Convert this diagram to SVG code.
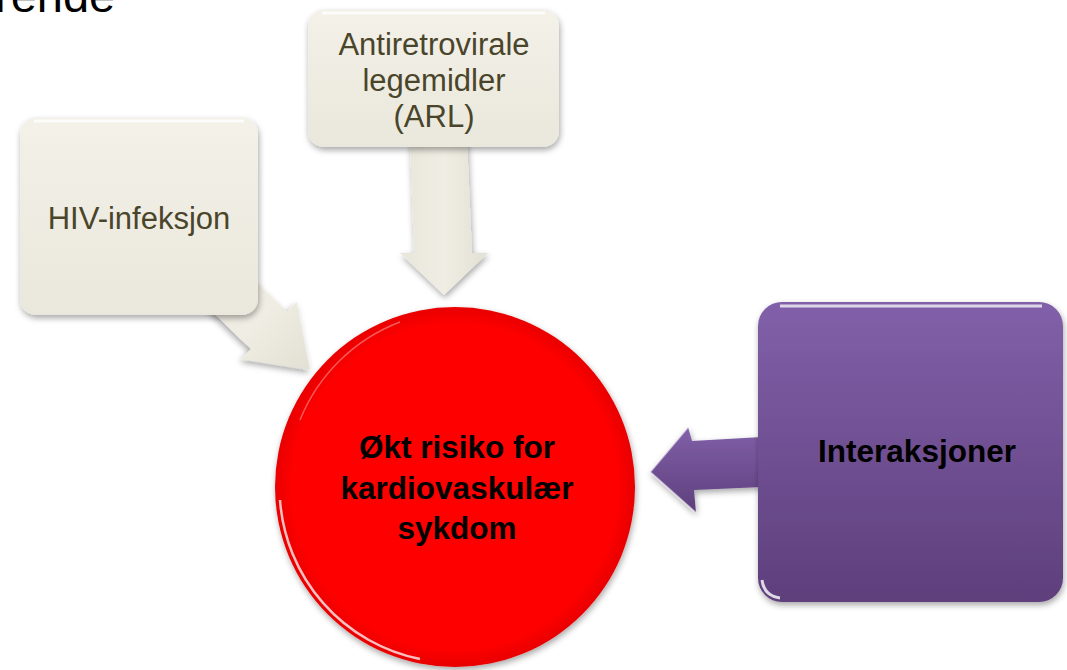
<svg xmlns="http://www.w3.org/2000/svg" width="1067" height="670" viewBox="0 0 1067 670">
<defs>
<style>
.lbl{font-family:"Liberation Sans",Arial,sans-serif;text-anchor:middle}
.beigeT{fill:#4a452a;font-size:31px}
.boldT{fill:#000;font-size:31.5px;font-weight:bold}
.beige{fill:url(#gBeige);filter:url(#sh)}
.hl{fill:none;stroke:#fff;stroke-width:3;stroke-opacity:.75}
</style>
<linearGradient id="gBeige" x1="0" y1="0" x2="0" y2="1">
<stop offset="0" stop-color="#f3f1e8"/>
<stop offset="1" stop-color="#eae8dc"/>
</linearGradient>
<linearGradient id="gArrowB" x1="0" y1="0" x2="1" y2="0">
<stop offset="0" stop-color="#e8e6da"/>
<stop offset="0.5" stop-color="#f0eee4"/>
<stop offset="1" stop-color="#e2e0d3"/>
</linearGradient>
<linearGradient id="gPurple" x1="0" y1="0" x2="0" y2="1">
<stop offset="0" stop-color="#8160a9"/>
<stop offset="1" stop-color="#5e3f7c"/>
</linearGradient>
<radialGradient id="gRed" cx="0.5" cy="0.5" r="0.5">
<stop offset="0.9" stop-color="#ff0000"/>
<stop offset="1" stop-color="#e80000"/>
</radialGradient>
<filter id="sh" x="-10%" y="-10%" width="125%" height="125%">
<feDropShadow dx="1" dy="3" stdDeviation="3" flood-color="#000" flood-opacity="0.35"/>
</filter>
</defs>
<rect width="1067" height="670" fill="#fff"/>
<text x="-5" y="12" font-family="'Liberation Sans',Arial,sans-serif" font-size="47" fill="#000">rende</text>

<g id="connectors">
<polygon id="arrow-arl" points="410,140 467,140 472,253 488,253 444,295 400,253 414,253" fill="url(#gArrowB)" filter="url(#sh)"/>
<polygon id="arrow-hiv" points="-150,-26 -57,-26 -57,-40 0,0 -57,40 -57,26 -150,26" transform="translate(310,370) rotate(44)" fill="url(#gArrowB)" filter="url(#sh)"/>
<polygon id="arrow-int" points="762,437 692,441 688,427 650,472 696,513 694,490 762,487" fill="url(#gPurple)" filter="url(#sh)"/>
<polyline points="688,427 650,472 696,513" fill="none" stroke="#fff" stroke-opacity=".6" stroke-width="2"/>
</g>

<g id="node-hiv">
<rect class="beige" x="20" y="118" width="238" height="197" rx="16"/>
<path class="hl" d="M34,121 H244" stroke-opacity=".9"/>
<text class="lbl beigeT" x="139" y="229">HIV-infeksjon</text>
</g>

<g id="node-arl">
<rect class="beige" x="308" y="10" width="251" height="137" rx="16"/>
<path class="hl" d="M322,13 H545" stroke-opacity=".9"/>
<text class="lbl beigeT" x="434" y="55">Antiretrovirale</text>
<text class="lbl beigeT" x="434" y="91">legemidler</text>
<text class="lbl beigeT" x="434" y="127">(ARL)</text>
</g>

<g id="node-int">
<rect x="758" y="302" width="305" height="300" rx="24" fill="url(#gPurple)" filter="url(#sh)"/>
<path class="hl" d="M780,306 H1042" stroke="#d8c8f0" stroke-opacity=".8"/>
<path d="M762,580 Q764,596 780,598" fill="none" stroke="#fff" stroke-width="3" stroke-opacity=".8"/>
<text class="lbl boldT" x="917" y="462">Interaksjoner</text>
</g>

<g id="node-risk">
<circle cx="455" cy="487" r="180" fill="url(#gRed)" filter="url(#sh)"/>
<path d="M280,500 A175,175 0 0 0 420,659" fill="none" stroke="#fff" stroke-width="2.5" stroke-opacity=".75"/>
<path d="M300,420 A175,175 0 0 1 400,322" fill="none" stroke="#fff" stroke-width="1.5" stroke-opacity=".35"/>
<text class="lbl boldT" x="457" y="458">Økt risiko for</text>
<text class="lbl boldT" x="457" y="499">kardiovaskulær</text>
<text class="lbl boldT" x="457" y="539">sykdom</text>
</g>
</svg>
